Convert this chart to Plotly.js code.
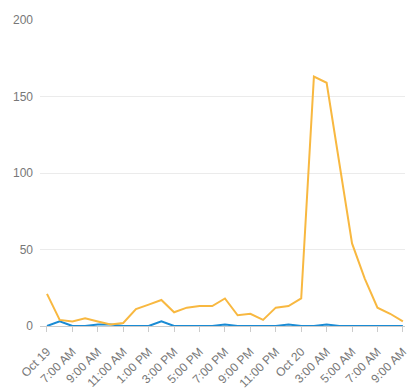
<!DOCTYPE html>
<html>
<head>
<meta charset="utf-8">
<script src="https://cdn.plot.ly/plotly-3.0.1.min.js"></script>
<style>html,body{margin:0;padding:0;background:#fff;}#chart{width:415px;height:392px;}</style>
</head>
<body>
<div id="chart"></div>
<script>
// Hourly timestamps, Oct 19 05:00 through Oct 20 09:00
const times = [
  '2023-10-19 05:00','2023-10-19 06:00','2023-10-19 07:00','2023-10-19 08:00','2023-10-19 09:00',
  '2023-10-19 10:00','2023-10-19 11:00','2023-10-19 12:00','2023-10-19 13:00','2023-10-19 14:00',
  '2023-10-19 15:00','2023-10-19 16:00','2023-10-19 17:00','2023-10-19 18:00','2023-10-19 19:00',
  '2023-10-19 20:00','2023-10-19 21:00','2023-10-19 22:00','2023-10-19 23:00','2023-10-20 00:00',
  '2023-10-20 01:00','2023-10-20 02:00','2023-10-20 03:00','2023-10-20 04:00','2023-10-20 05:00',
  '2023-10-20 06:00','2023-10-20 07:00','2023-10-20 08:00','2023-10-20 09:00'
];
const orangeSeries = [21, 4, 3, 5, 3, 1, 2, 11, 14, 17, 9, 12, 13, 13, 18, 7, 8, 4, 12, 13, 18, 163, 159, 107, 54, 31, 12, 8, 3];
const blueSeries   = [0, 3, 0, 0, 1, 1, 0, 0, 0, 3, 0, 0, 0, 0, 1, 0, 0, 0, 0, 1, 0, 0, 1, 0, 0, 0, 0, 0, 0];

const tickVals = [
  '2023-10-19 05:00','2023-10-19 07:00','2023-10-19 09:00','2023-10-19 11:00','2023-10-19 13:00',
  '2023-10-19 15:00','2023-10-19 17:00','2023-10-19 19:00','2023-10-19 21:00','2023-10-19 23:00',
  '2023-10-20 01:00','2023-10-20 03:00','2023-10-20 05:00','2023-10-20 07:00','2023-10-20 09:00'
];
const tickText = ['Oct 19','7:00 AM','9:00 AM','11:00 AM','1:00 PM','3:00 PM','5:00 PM','7:00 PM',
  '9:00 PM','11:00 PM','Oct 20','3:00 AM','5:00 AM','7:00 AM','9:00 AM'];
const yTicks = [0, 50, 100, 150, 200];

const traces = [
  {x: times, y: blueSeries, type: 'scatter', mode: 'lines', line: {color: '#1a8bd4', width: 2}, hoverinfo: 'skip'},
  {x: times, y: orangeSeries, type: 'scatter', mode: 'lines', line: {color: '#f8b840', width: 2}, hoverinfo: 'skip'}
];

const layout = {
  width: 415, height: 392,
  margin: {l: 40, r: 10, t: 20, b: 66},
  paper_bgcolor: '#fff', plot_bgcolor: '#fff',
  showlegend: false,
  font: {family: 'Liberation Sans, Arial, sans-serif', size: 12, color: '#777'},
  xaxis: {
    type: 'date',
    range: ['2023-10-19 04:27', '2023-10-20 09:10'],
    tickmode: 'array', tickvals: tickVals, ticktext: tickText,
    tickangle: -45,
    showgrid: false, zeroline: false,
    showline: true, linecolor: '#ccc', linewidth: 1,
    ticks: 'outside', ticklen: 5, tickcolor: '#ccc',
    ticklabelstandoff: 8,
    tickfont: {size: 12, color: '#777'}
  },
  yaxis: {
    range: [0, 200],
    tickmode: 'array', tickvals: yTicks,
    showgrid: true, gridcolor: '#ebebeb', gridwidth: 1,
    zeroline: false, showline: false,
    ticks: '', ticklabelstandoff: 6,
    tickfont: {size: 12, color: '#777'}
  }
};

Plotly.newPlot('chart', traces, layout, {displayModeBar: false, staticPlot: true});
</script>
</body>
</html>
